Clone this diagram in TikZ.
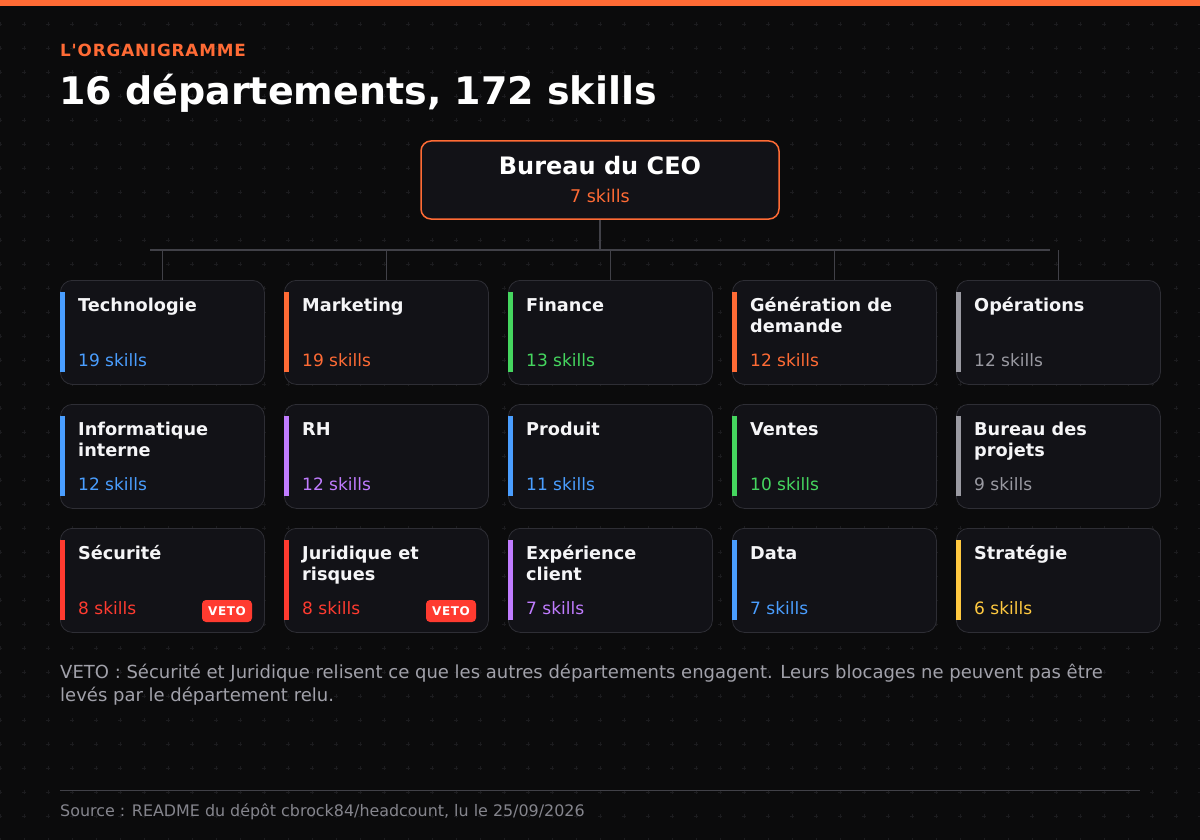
\documentclass[tikz,border=0pt]{standalone}
\usepackage{fontspec}
\setmainfont{DejaVu Sans}
\newfontfamily\eyebrowfont[LetterSpace=5]{DejaVu Sans}
\newfontfamily\badgefont[LetterSpace=5]{DejaVu Sans}
\definecolor{bg}{HTML}{0B0B0C}
\definecolor{gridc}{HTML}{1C1C1F}
\definecolor{accent}{HTML}{FF6B35}
\definecolor{cardfill}{HTML}{121217}
\definecolor{cardline}{HTML}{2E2E35}
\definecolor{conn}{HTML}{414148}
\definecolor{cblue}{HTML}{4A9EFF}
\definecolor{cgreen}{HTML}{45D65F}
\definecolor{cgray}{HTML}{9A9AA2}
\definecolor{cpurple}{HTML}{C07CFF}
\definecolor{cred}{HTML}{FF3B30}
\definecolor{cyellow}{HTML}{FFC940}
\definecolor{notec}{HTML}{A1A1AA}
\definecolor{footc}{HTML}{85858D}
\definecolor{titlec}{HTML}{F5F5F7}
\tikzset{
  cardbox/.style={draw=cardline, line width=0.8pt, fill=cardfill, rounded corners=12pt,
    minimum width=204pt, minimum height=104pt, inner sep=0pt, anchor=north west},
  ceobox/.style={draw=accent, line width=1.5pt, fill=cardfill, rounded corners=10pt,
    minimum width=358pt, minimum height=78pt, inner sep=0pt},
  deptitle/.style={anchor=base west, inner sep=0pt, text=titlec,
    font=\bfseries\fontsize{17.7}{21}\selectfont},
  skilltxt/.style={anchor=base west, inner sep=0pt, font=\fontsize{17}{21}\selectfont},
  connector/.style={draw=conn, line width=1.6pt},
  badge/.style={fill=cred, rounded corners=4pt, minimum width=50pt, minimum height=22pt,
    inner sep=0pt, text=white, font=\badgefont\bfseries\fontsize{12}{14}\selectfont},
  notetxt/.style={anchor=base west, inner sep=0pt, text=notec, font=\fontsize{18}{23}\selectfont},
}
\newcommand\twolines[2]{\begin{tabular}[t]{@{}l@{}}#1\\#2\end{tabular}}
% \deptcard{name}{x}{y}{title}{skills}{colour}
\newcommand\deptcard[6]{%
  \node[cardbox] (#1) at (#2,#3) {};
  \fill[#6] (#2,#3+12) rectangle (#2+4.5,#3+92);
  \node[deptitle] (#1-t) at (#2+18,#3+311.5-280) {#4};
  \node[skilltxt, text=#6] (#1-s) at (#2+18,#3+86) {#5};
}
\begin{document}
\begin{tikzpicture}[x=1pt,y=-1pt]
\fill[bg] (0,0) rectangle (1200,840);
\useasboundingbox (0,0) rectangle (1200,840);
% dot grid
\foreach \i in {0,...,50}{
  \foreach \j in {1,...,35}{
    \draw[gridc, line width=0.6pt] (\i*24-2,\j*24) -- (\i*24+2,\j*24)
      (\i*24,\j*24-2) -- (\i*24,\j*24+2);
  }
}
% top bar
\fill[accent] (0,0) rectangle (1200,6);
% header
\node[anchor=base west, inner sep=0pt, text=accent,
  font=\eyebrowfont\bfseries\fontsize{16.8}{19}\selectfont] (eyebrow) at (60,56.5) {L'ORGANIGRAMME};
\node[anchor=base west, inner sep=0pt, text=white,
  font=\bfseries\fontsize{38}{44}\selectfont] (title) at (59,105) {16 départements, 172 skills};
% CEO
\node[ceobox] (ceo) at (600,180) {};
\node[anchor=base, inner sep=0pt, text=white, font=\bfseries\fontsize{24}{28}\selectfont] (ceo-t) at (600,174.5) {Bureau du CEO};
\node[anchor=base, inner sep=0pt, text=accent, font=\fontsize{17.5}{21}\selectfont] (ceo-s) at (600,203) {7 skills};
% cards row 1
\deptcard{c11}{60}{280}{Technologie}{19 skills}{cblue}
\deptcard{c12}{284}{280}{Marketing}{19 skills}{accent}
\deptcard{c13}{508}{280}{Finance}{13 skills}{cgreen}
\deptcard{c14}{732}{280}{\twolines{Génération de}{demande}}{12 skills}{accent}
\deptcard{c15}{956}{280}{Opérations}{12 skills}{cgray}
% row 2
\deptcard{c21}{60}{404}{\twolines{Informatique}{interne}}{12 skills}{cblue}
\deptcard{c22}{284}{404}{RH}{12 skills}{cpurple}
\deptcard{c23}{508}{404}{Produit}{11 skills}{cblue}
\deptcard{c24}{732}{404}{Ventes}{10 skills}{cgreen}
\deptcard{c25}{956}{404}{\twolines{Bureau des}{projets}}{9 skills}{cgray}
% row 3
\deptcard{c31}{60}{528}{Sécurité}{8 skills}{cred}
\deptcard{c32}{284}{528}{\twolines{Juridique et}{risques}}{8 skills}{cred}
\deptcard{c33}{508}{528}{\twolines{Expérience}{client}}{7 skills}{cpurple}
\deptcard{c34}{732}{528}{Data}{7 skills}{cblue}
\deptcard{c35}{956}{528}{Stratégie}{6 skills}{cyellow}
% veto badges
\node[badge] (veto1) at (227,611) {VETO};
\node[badge] (veto2) at (451,611) {VETO};
% connectors
\coordinate (hl) at (150,250);
\coordinate (hr) at (1050,250);
\coordinate (hm) at (600,250);
\draw[connector] (ceo.south) -- (hm);
\draw[connector] (hl) -- (hr);
\foreach \c in {c11,c12,c13,c14,c15}{
  \draw[connector] (\c.north |- hm) -- (\c.north);
}
% note
\node[notetxt] (note1) at (60,678)
  {VETO : Sécurité et Juridique relisent ce que les autres départements engagent. Leurs blocages ne peuvent pas être};
\node[notetxt] (note2) at (60,701)
  {levés par le département relu.};
% footer
\coordinate (dl) at (60,790);
\coordinate (dr) at (1140,790);
\draw[draw=conn, line width=1pt] (dl) -- (dr);
\node[anchor=base west, inner sep=0pt, text=footc, font=\fontsize{15.9}{19}\selectfont] (foot) at (60,816)
  {Source : README du dépôt cbrock84/headcount, lu le 25/09/2026};
\end{tikzpicture}
\end{document}
